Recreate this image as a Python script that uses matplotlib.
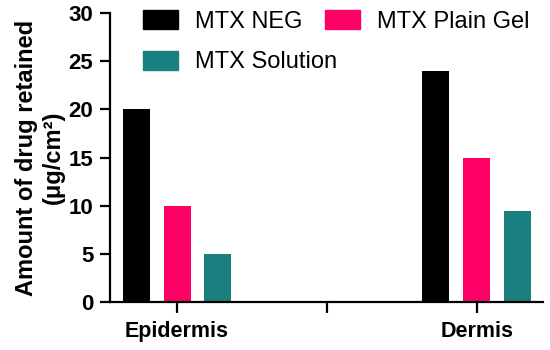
import numpy as np
import matplotlib.pyplot as plt
from matplotlib.patches import Patch

plt.rcParams['font.family'] = ['Liberation Sans', 'DejaVu Sans']

groups = ['Epidermis', '', 'Dermis']
series = ['MTX NEG', 'MTX Plain Gel', 'MTX Solution']
neg = [20, 24]
plain = [10, 15]
solution = [5, 9.5]
colors = ['#000000', '#FF0066', '#1A7F7F']

fig = plt.figure(figsize=(5.5, 3.5), dpi=100)
ax = fig.add_axes([0.2, 0.137, 0.787, 0.826])

xpos = np.array([0, 2])
w = 0.18
step = 0.273
for i, (vals, c) in enumerate(zip([neg, plain, solution], colors)):
    ax.bar(xpos + (i - 1) * step, vals, width=w, color=c)

ax.set_xlim(-0.447, 2.44)
ax.set_ylim(0, 30)
ax.set_yticks([0, 5, 10, 15, 20, 25, 30])
ax.set_xticks([0, 1, 2])
ax.set_xticklabels(groups, fontweight='bold', fontsize=15.5)
for lab in ax.get_yticklabels():
    lab.set_fontweight('bold')
    lab.set_fontsize(16)

ax.spines['top'].set_visible(False)
ax.spines['right'].set_visible(False)
ax.spines['left'].set_linewidth(1.6)
ax.spines['bottom'].set_linewidth(1.6)
ax.tick_params(axis='y', length=7, width=1.6, pad=5)
ax.tick_params(axis='x', length=8, width=1.6, pad=6)

ax.set_ylabel('Amount of drug retained\n(\u03bcg/cm\u00b2)', fontweight='bold',
              fontsize=17, linespacing=1.2, labelpad=3)

# two legend rows, placed like the original (not a strict grid)
handles = [Patch(color=c) for c in colors]
kw = dict(frameon=False, loc='center left', fontsize=17, handlelength=1.5,
          handleheight=0.85, handletextpad=0.7, borderpad=0, borderaxespad=0)
leg1 = ax.legend(handles[:2], series[:2], ncol=2, columnspacing=0.95,
                 bbox_to_anchor=(0.076, 0.97), **kw)
ax.add_artist(leg1)
ax.legend(handles[2:], series[2:], bbox_to_anchor=(0.076, 0.83), **kw)

fig.savefig('out.png', dpi=100)
